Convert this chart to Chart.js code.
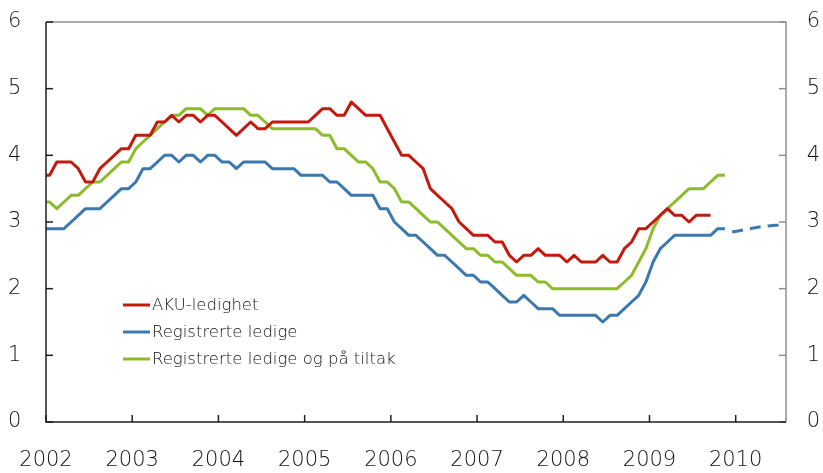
<!DOCTYPE html>
<html>
<head>
<meta charset="utf-8">
<script src="https://cdn.jsdelivr.net/npm/chart.js@4"></script>
<style>
  html, body { margin: 0; padding: 0; background: #fff; }
  #wrap { width: 823px; height: 473px; }
</style>
</head>
<body>
<div id="wrap"><canvas id="unemploymentChart" width="823" height="473"></canvas></div>
<script>
// months, first entry Dec 2001 (only the stub at the left edge), then Jan 2002 ..
const months = [
  "2001-12",
  "2002-01","2002-02","2002-03","2002-04","2002-05","2002-06","2002-07","2002-08","2002-09","2002-10","2002-11","2002-12",
  "2003-01","2003-02","2003-03","2003-04","2003-05","2003-06","2003-07","2003-08","2003-09","2003-10","2003-11","2003-12",
  "2004-01","2004-02","2004-03","2004-04","2004-05","2004-06","2004-07","2004-08","2004-09","2004-10","2004-11","2004-12",
  "2005-01","2005-02","2005-03","2005-04","2005-05","2005-06","2005-07","2005-08","2005-09","2005-10","2005-11","2005-12",
  "2006-01","2006-02","2006-03","2006-04","2006-05","2006-06","2006-07","2006-08","2006-09","2006-10","2006-11","2006-12",
  "2007-01","2007-02","2007-03","2007-04","2007-05","2007-06","2007-07","2007-08","2007-09","2007-10","2007-11","2007-12",
  "2008-01","2008-02","2008-03","2008-04","2008-05","2008-06","2008-07","2008-08","2008-09","2008-10","2008-11","2008-12",
  "2009-01","2009-02","2009-03","2009-04","2009-05","2009-06","2009-07","2009-08","2009-09","2009-10","2009-11","2009-12",
  "2010-01","2010-02","2010-03","2010-04","2010-05","2010-06","2010-07"
];

const yearLabels = ["2002","2003","2004","2005","2006","2007","2008","2009","2010"];

const aku = [
  3.7,
  3.7, 3.9, 3.9, 3.9, 3.8, 3.6, 3.6, 3.8, 3.9, 4.0, 4.1, 4.1,
  4.3, 4.3, 4.3, 4.5, 4.5, 4.6, 4.5, 4.6, 4.6, 4.5, 4.6, 4.6,
  4.5, 4.4, 4.3, 4.4, 4.5, 4.4, 4.4, 4.5, 4.5, 4.5, 4.5, 4.5,
  4.5, 4.6, 4.7, 4.7, 4.6, 4.6, 4.8, 4.7, 4.6, 4.6, 4.6, 4.4,
  4.2, 4.0, 4.0, 3.9, 3.8, 3.5, 3.4, 3.3, 3.2, 3.0, 2.9, 2.8,
  2.8, 2.8, 2.7, 2.7, 2.5, 2.4, 2.5, 2.5, 2.6, 2.5, 2.5, 2.5,
  2.4, 2.5, 2.4, 2.4, 2.4, 2.5, 2.4, 2.4, 2.6, 2.7, 2.9, 2.9,
  3.0, 3.1, 3.2, 3.1, 3.1, 3.0, 3.1, 3.1, 3.1
];

const registrerte = [
  2.9,
  2.9, 2.9, 2.9, 3.0, 3.1, 3.2, 3.2, 3.2, 3.3, 3.4, 3.5, 3.5,
  3.6, 3.8, 3.8, 3.9, 4.0, 4.0, 3.9, 4.0, 4.0, 3.9, 4.0, 4.0,
  3.9, 3.9, 3.8, 3.9, 3.9, 3.9, 3.9, 3.8, 3.8, 3.8, 3.8, 3.7,
  3.7, 3.7, 3.7, 3.6, 3.6, 3.5, 3.4, 3.4, 3.4, 3.4, 3.2, 3.2,
  3.0, 2.9, 2.8, 2.8, 2.7, 2.6, 2.5, 2.5, 2.4, 2.3, 2.2, 2.2,
  2.1, 2.1, 2.0, 1.9, 1.8, 1.8, 1.9, 1.8, 1.7, 1.7, 1.7, 1.6,
  1.6, 1.6, 1.6, 1.6, 1.6, 1.5, 1.6, 1.6, 1.7, 1.8, 1.9, 2.1,
  2.4, 2.6, 2.7, 2.8, 2.8, 2.8, 2.8, 2.8, 2.8, 2.9, 2.9
];

// projection for registered unemployment (dashed), starts Dec 2009
const registrerteAnslag = [
  null,
  null, null, null, null, null, null, null, null, null, null, null, null,
  null, null, null, null, null, null, null, null, null, null, null, null,
  null, null, null, null, null, null, null, null, null, null, null, null,
  null, null, null, null, null, null, null, null, null, null, null, null,
  null, null, null, null, null, null, null, null, null, null, null, null,
  null, null, null, null, null, null, null, null, null, null, null, null,
  null, null, null, null, null, null, null, null, null, null, null, null,
  null, null, null, null, null, null, null, null, null, null, null, 2.85,
  2.87, 2.89, 2.91, 2.93, 2.94, 2.95, 2.95
];

const medTiltak = [
  3.3,
  3.3, 3.2, 3.3, 3.4, 3.4, 3.5, 3.6, 3.6, 3.7, 3.8, 3.9, 3.9,
  4.1, 4.2, 4.3, 4.4, 4.5, 4.6, 4.6, 4.7, 4.7, 4.7, 4.6, 4.7,
  4.7, 4.7, 4.7, 4.7, 4.6, 4.6, 4.5, 4.4, 4.4, 4.4, 4.4, 4.4,
  4.4, 4.4, 4.3, 4.3, 4.1, 4.1, 4.0, 3.9, 3.9, 3.8, 3.6, 3.6,
  3.5, 3.3, 3.3, 3.2, 3.1, 3.0, 3.0, 2.9, 2.8, 2.7, 2.6, 2.6,
  2.5, 2.5, 2.4, 2.4, 2.3, 2.2, 2.2, 2.2, 2.1, 2.1, 2.0, 2.0,
  2.0, 2.0, 2.0, 2.0, 2.0, 2.0, 2.0, 2.0, 2.1, 2.2, 2.4, 2.6,
  2.9, 3.1, 3.2, 3.3, 3.4, 3.5, 3.5, 3.5, 3.6, 3.7, 3.7
];

const RED = "#c41a0e";
const BLUE = "#3a78ae";
const GREEN = "#8dbb2c";

// month index -> x value, points sit mid-month (Dec 2001 sits at -0.5)
function toPoints(arr) {
  return arr.map((v, i) => ({ x: i - 0.5, y: v }));
}

const yFont = { family: "DejaVu Sans", size: 21, weight: 200 };
// tall line height pushes the year labels down below the axis
const xFont = { family: "DejaVu Sans", size: 21, weight: 200, lineHeight: 78 / 21 };

const frameAndTicks = {
  id: 'frameAndTicks',
  afterDraw(chart) {
    const { ctx, chartArea: a, scales } = chart;
    ctx.save();
    ctx.lineCap = 'butt';
    // grey top + right
    ctx.strokeStyle = '#8f8f8f';
    ctx.lineWidth = 1.5;
    ctx.beginPath();
    ctx.moveTo(a.left, a.top); ctx.lineTo(a.right, a.top); ctx.lineTo(a.right, a.bottom);
    ctx.stroke();
    scales.y2.ticks.forEach((t, i) => {
      const py = scales.y2.getPixelForTick(i);
      ctx.beginPath(); ctx.moveTo(a.right, py); ctx.lineTo(a.right - 7, py); ctx.stroke();
    });
    // black left + bottom
    ctx.strokeStyle = '#1e1e1e';
    ctx.lineWidth = 1.5;
    ctx.beginPath();
    ctx.moveTo(a.left, a.top); ctx.lineTo(a.left, a.bottom); ctx.lineTo(a.right, a.bottom);
    ctx.stroke();
    scales.y.ticks.forEach((t, i) => {
      const py = scales.y.getPixelForTick(i);
      ctx.beginPath(); ctx.moveTo(a.left, py); ctx.lineTo(a.left + 7, py); ctx.stroke();
    });
    scales.x.ticks.forEach((t, i) => {
      const px = scales.x.getPixelForTick(i);
      ctx.beginPath(); ctx.moveTo(px, a.bottom); ctx.lineTo(px, a.bottom - 7); ctx.stroke();
    });
    ctx.restore();
  }
};

// legend inside the plot, lower left
const innerLegend = {
  id: 'innerLegend',
  afterDraw(chart) {
    const { ctx, chartArea: a } = chart;
    const x0 = a.left + 77, y0 = a.top + 283, rowH = 27;
    ctx.save();
    ctx.font = '200 16.5px "DejaVu Sans"';
    ctx.textBaseline = 'middle';
    ctx.fillStyle = '#111';
    let row = 0;
    chart.data.datasets.forEach(ds => {
      if (ds.hideInLegend) return;
      const y = y0 + row * rowH;
      ctx.strokeStyle = ds.borderColor;
      ctx.lineWidth = 3;
      ctx.beginPath(); ctx.moveTo(x0, y); ctx.lineTo(x0 + 27, y); ctx.stroke();
      ctx.fillText(ds.label, x0 + 29, y + 1);
      row++;
    });
    ctx.restore();
  }
};

const chart = new Chart(document.getElementById('unemploymentChart').getContext('2d'), {
  type: 'line',
  data: {
    datasets: [
      { label: "AKU-ledighet", data: toPoints(aku), borderColor: RED },
      { label: "Registrerte ledige", data: toPoints(registrerte), borderColor: BLUE },
      { label: "Registrerte ledige og på tiltak", data: toPoints(medTiltak), borderColor: GREEN },
      { label: "Registrerte ledige, anslag", data: toPoints(registrerteAnslag), borderColor: BLUE,
        borderDash: [11, 7], hideInLegend: true }
    ]
  },
  options: {
    responsive: false,
    animation: false,
    devicePixelRatio: 1,
    layout: { padding: { top: 22, left: 8, right: 3, bottom: 0 } },
    elements: {
      line: { borderWidth: 3, tension: 0, fill: false, borderCapStyle: 'butt', borderJoinStyle: 'round' },
      point: { radius: 0, hoverRadius: 0 }
    },
    plugins: { legend: { display: false }, tooltip: { enabled: false } },
    scales: {
      x: {
        type: 'linear',
        min: 0,
        max: months.length - 1,
        grid: { display: false, drawTicks: false },
        border: { display: false },
        ticks: {
          stepSize: 12,
          includeBounds: false,
          autoSkip: false,
          maxRotation: 0,
          padding: 0,
          color: '#111',
          font: xFont,
          callback: v => yearLabels[v / 12]
        },
        afterFit: s => { s.height = 51; }
      },
      y: {
        position: 'left',
        min: 0, max: 6,
        grid: { display: false, drawTicks: false },
        border: { display: false },
        ticks: { stepSize: 1, padding: 0, crossAlign: 'far', color: '#111', font: yFont },
        afterFit: s => { s.width = 38; }
      },
      y2: {
        position: 'right',
        min: 0, max: 6,
        grid: { display: false, drawTicks: false },
        border: { display: false },
        ticks: { stepSize: 1, padding: 0, crossAlign: 'far', color: '#111', font: yFont },
        afterFit: s => { s.width = 34; }
      }
    }
  },
  plugins: [frameAndTicks, innerLegend]
});

window.chart = chart;
</script>
</body>
</html>
